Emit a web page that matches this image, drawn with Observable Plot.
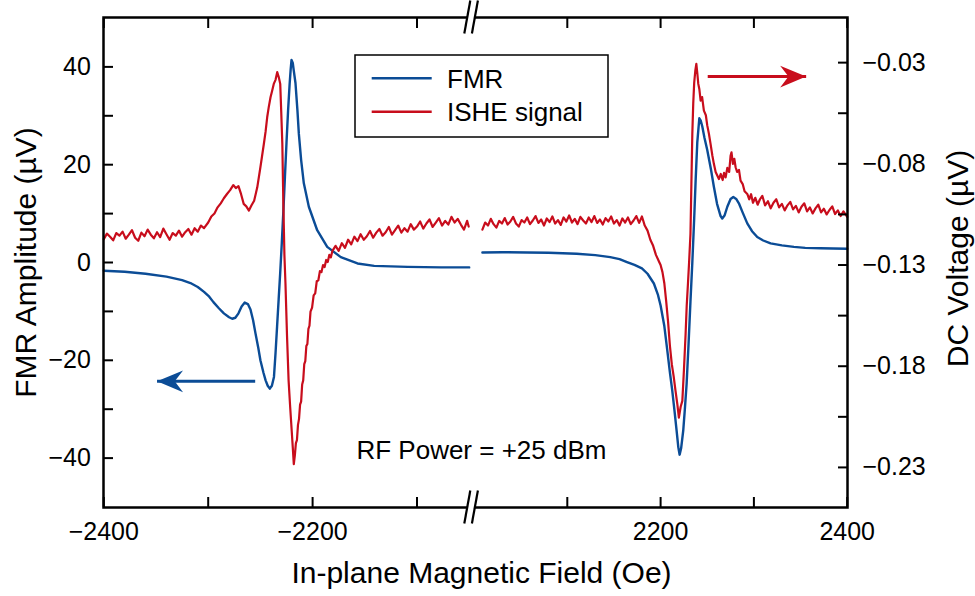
<!DOCTYPE html>
<html>
<head>
<meta charset="utf-8">
<script src="https://cdn.jsdelivr.net/npm/d3@7"></script>
<script src="https://cdn.jsdelivr.net/npm/@observablehq/plot@0.6"></script>
<style>
  html, body { margin: 0; padding: 0; background: #fff; }
  #chart svg { display: block; }
</style>
</head>
<body>
<div id="chart"></div>
<script>
// ---------------- data ----------------
// FMR amplitude (µV) vs in-plane field (Oe), negative-field branch
const fmrLeft = [
  [-2400,-1.7],[-2380,-1.9],[-2360,-2.3],[-2340,-2.9],[-2325,-3.6],[-2317,-4.2],[-2310,-5.0],
  [-2304,-6.0],[-2299,-7.0],[-2295,-8.1],[-2290,-9.3],[-2285,-10.4],[-2280,-11.2],[-2277,-11.5],
  [-2274,-11.3],[-2271,-10.4],[-2268,-9.0],[-2265,-8.2],[-2262,-8.5],[-2259.5,-9.6],[-2257,-11.8],
  [-2254.7,-14.5],[-2252,-17.5],[-2250,-20],[-2247,-22.6],[-2245,-24.1],[-2243,-25.2],[-2241,-25.8],
  [-2239,-25.2],[-2237,-23.4],[-2235.5,-18.5],[-2234,-13],[-2232.5,-7.5],[-2231,-2],[-2229.5,4],
  [-2228,10.5],[-2226.5,17.5],[-2225,24.5],[-2223.5,31],[-2222,36.5],[-2221,39.5],[-2220.2,41.4],
  [-2219,40.8],[-2218,39.2],[-2216.4,36.7],[-2214.5,31],[-2213.2,26.4],[-2211,21],[-2208.4,16.2],
  [-2203.6,11.4],[-2195.6,6.6],[-2186,3.2],[-2173,1.1],[-2157,-0.2],[-2141,-0.7],[-2109,-0.9],
  [-2077,-1.0],[-2050,-1.0]
];
// FMR amplitude (µV), positive-field branch
const fmrRight = [
  [2009,2.05],[2030,2.1],[2057,2.05],[2080,2.0],[2110,1.8],[2130,1.5],[2146,1.1],[2156,0.7],
  [2164,0.1],[2172,-0.5],[2180,-1.2],[2186,-2.3],[2192.8,-4.3],[2197,-6.5],[2200,-8.8],[2204,-13],
  [2207.2,-18],[2210,-22.5],[2212.5,-26.2],[2215,-30.5],[2217.1,-34.3],[2219,-37.8],[2220.4,-39.3],
  [2222,-38],[2224.3,-34.3],[2226,-30],[2227.9,-24.8],[2230,-16.5],[2232,-8],[2234,0],[2236,9],
  [2237.6,17],[2239.3,24.5],[2241.5,29.5],[2243,29],[2244.7,27.8],[2247,25.5],[2250,23],[2254,19],
  [2257.1,15.5],[2260.5,12],[2264.3,9.5],[2266.1,9.0],[2268.5,9.6],[2271.5,11.4],[2275,13],
  [2277.9,13.4],[2281,13.0],[2283.9,12.1],[2288,10.2],[2292.9,8.0],[2298,6.4],[2303.6,5.2],
  [2310,4.5],[2317.9,3.9],[2330,3.5],[2342.9,3.2],[2355,3.0],[2371.5,2.9],[2385,2.85],[2400,2.8]
];
// ISHE DC voltage (right axis units) vs field, negative-field branch
const isheLeft = [
  [-2400,-0.1172],[-2397,-0.1145],[-2394,-0.1160],[-2391,-0.1178],[-2388,-0.1142],[-2385,-0.1155],
  [-2382,-0.1135],[-2379,-0.1170],[-2376,-0.1150],[-2373,-0.1128],[-2370,-0.1165],[-2367,-0.1180],
  [-2364,-0.1140],[-2361,-0.1158],[-2358,-0.1125],[-2355,-0.1150],[-2352,-0.1168],[-2349,-0.1138],
  [-2346,-0.1162],[-2343,-0.1120],[-2340,-0.1148],[-2337,-0.1175],[-2334,-0.1142],[-2331,-0.1155],
  [-2328,-0.1130],[-2325,-0.1160],[-2322,-0.1138],[-2319,-0.1122],[-2316,-0.1150],[-2313,-0.1118],
  [-2310,-0.1135],[-2307,-0.1105],[-2304,-0.1118],[-2300,-0.1090],[-2297,-0.1060],[-2294,-0.1045],
  [-2291,-0.1015],[-2288,-0.0995],[-2285,-0.0970],[-2282,-0.0949],[-2279,-0.0930],[-2276,-0.0905],
  [-2273.5,-0.0920],[-2271,-0.0910],[-2268.5,-0.0950],[-2266,-0.0998],[-2263.5,-0.1010],[-2261,-0.1031],
  [-2258.5,-0.1005],[-2256,-0.0982],[-2253,-0.0916],[-2250,-0.0817],[-2248.5,-0.0765],[-2246.7,-0.0702],
  [-2245,-0.0640],[-2243.5,-0.0570],[-2242,-0.0520],[-2240.3,-0.0471],[-2238.8,-0.0440],[-2237.2,-0.0405],
  [-2235.5,-0.0385],[-2233.9,-0.0347],[-2232.5,-0.0370],[-2231,-0.0405],[-2230,-0.0550],[-2229,-0.0700],
  [-2228,-0.1000],[-2227,-0.1250],[-2226,-0.1390],[-2224.5,-0.1650],[-2223,-0.1870],[-2221.5,-0.2000],
  [-2220,-0.2120],[-2219,-0.2200],[-2218,-0.2284],[-2217,-0.2240],[-2216,-0.2180],[-2215,-0.2165],
  [-2214,-0.2090],[-2213,-0.2060],[-2212,-0.1990],[-2211,-0.1975],[-2210,-0.1890],[-2209,-0.1870],
  [-2208,-0.1790],[-2207,-0.1775],[-2206,-0.1700],[-2205,-0.1690],[-2204,-0.1615],[-2203,-0.1600],
  [-2202,-0.1530],[-2200.5,-0.1510],[-2199,-0.1450],[-2197.5,-0.1440],[-2196,-0.1380],[-2194.5,-0.1375],
  [-2193,-0.1330],[-2191.5,-0.1335],[-2190,-0.1300],[-2188.5,-0.1310],[-2187,-0.1275],[-2185.5,-0.1285],
  [-2184,-0.1250],[-2182.5,-0.1262],[-2181,-0.1230],[-2178,-0.1205],[-2175,-0.1230],[-2172,-0.1192],
  [-2169,-0.1215],[-2166,-0.1175],[-2163,-0.1198],[-2160,-0.1160],[-2157,-0.1182],[-2154,-0.1148],
  [-2151,-0.1175],[-2148,-0.1158],[-2145,-0.1132],[-2142,-0.1165],[-2139,-0.1140],[-2136,-0.1122],
  [-2133,-0.1155],[-2130,-0.1138],[-2127,-0.1112],[-2124,-0.1150],[-2121,-0.1128],[-2118,-0.1105],
  [-2115,-0.1140],[-2112,-0.1118],[-2109,-0.1135],[-2106,-0.1098],[-2103,-0.1125],[-2100,-0.1110],
  [-2097,-0.1085],[-2094,-0.1120],[-2091,-0.1095],[-2088,-0.1075],[-2085,-0.1112],[-2082,-0.1090],
  [-2079,-0.1068],[-2076,-0.1105],[-2073,-0.1082],[-2070,-0.1100],[-2067,-0.1062],[-2064,-0.1090],
  [-2061,-0.1072],[-2058,-0.1100],[-2055,-0.1125],[-2052,-0.1082],[-2050.5,-0.1110]
];
// ISHE DC voltage, positive-field branch
const isheRight = [
  [2009,-0.1125],[2012,-0.1090],[2015,-0.1105],[2018,-0.1072],[2021,-0.1098],[2024,-0.1115],
  [2027,-0.1082],[2030,-0.1095],[2033,-0.1068],[2036,-0.1100],[2039,-0.1085],[2042,-0.1062],
  [2045,-0.1095],[2048,-0.1110],[2051,-0.1078],[2054,-0.1090],[2057,-0.1065],[2060,-0.1098],
  [2063,-0.1080],[2066,-0.1058],[2069,-0.1092],[2072,-0.1075],[2075,-0.1105],[2078,-0.1070],
  [2081,-0.1088],[2084,-0.1060],[2087,-0.1095],[2090,-0.1078],[2093,-0.1102],[2096,-0.1065],
  [2099,-0.1085],[2102,-0.1055],[2105,-0.1090],[2108,-0.1072],[2111,-0.1098],[2114,-0.1062],
  [2117,-0.1080],[2120,-0.1095],[2123,-0.1065],[2126,-0.1088],[2129,-0.1058],[2132,-0.1092],
  [2135,-0.1075],[2138,-0.1100],[2141,-0.1068],[2144,-0.1085],[2147,-0.1060],[2150,-0.1095],
  [2153,-0.1078],[2156,-0.1105],[2159,-0.1070],[2162,-0.1090],[2165,-0.1065],[2168,-0.1098],
  [2171,-0.1080],[2174,-0.1058],[2177,-0.1092],[2180,-0.1060],[2183,-0.1105],[2186,-0.1130],
  [2189,-0.1175],[2192,-0.1205],[2195,-0.1250],[2198,-0.1280],[2200,-0.1300],[2202,-0.1335],
  [2204,-0.1390],[2206,-0.1480],[2208,-0.1580],[2210,-0.1700],[2212,-0.1790],[2214,-0.1850],
  [2216,-0.1922],[2218,-0.1990],[2219.6,-0.2054],[2221.5,-0.2000],[2223.3,-0.1971],[2225,-0.1820],
  [2226.8,-0.1641],[2228,-0.1500],[2229.3,-0.1394],[2230.5,-0.1290],[2232,-0.1147],[2233,-0.0900],
  [2234,-0.0652],[2235,-0.0500],[2236,-0.0400],[2237.2,-0.0340],[2238.3,-0.0306],[2239.3,-0.0350],
  [2240.4,-0.0405],[2241.5,-0.0430],[2242.9,-0.0488],[2244.5,-0.0470],[2246.4,-0.0537],[2248.5,-0.0560],
  [2250,-0.0610],[2251.8,-0.0652],[2253.5,-0.0700],[2255.5,-0.0760],[2257.1,-0.0800],[2259,-0.0840],
  [2261,-0.0860],[2262.5,-0.0875],[2264.5,-0.0850],[2266.5,-0.0880],[2268,-0.0845],[2269.7,-0.0867],
  [2271.5,-0.0820],[2273.5,-0.0840],[2275,-0.0760],[2276,-0.0743],[2277.5,-0.0800],[2279,-0.0775],
  [2280.4,-0.0817],[2282,-0.0840],[2284,-0.0830],[2285.7,-0.0883],[2288,-0.0900],[2290,-0.0935],
  [2292.9,-0.0949],[2295,-0.0975],[2297,-0.0950],[2299,-0.0992],[2301.5,-0.0968],[2304,-0.1002],
  [2306.5,-0.0975],[2309,-0.0958],[2312,-0.1005],[2315,-0.0985],[2318,-0.1020],[2321,-0.0992],
  [2324,-0.0975],[2327,-0.1015],[2330,-0.0998],[2333,-0.1030],[2336,-0.1005],[2339,-0.0988],
  [2342,-0.1025],[2345,-0.1008],[2348,-0.1040],[2351,-0.1012],[2354,-0.0995],[2357,-0.1035],
  [2360,-0.1015],[2363,-0.1045],[2366,-0.1020],[2369,-0.1002],[2372,-0.1040],[2375,-0.1022],
  [2378,-0.1050],[2381,-0.1028],[2384,-0.1010],[2387,-0.1048],[2390,-0.1030],[2393,-0.1058],
  [2396,-0.1035],[2400,-0.1062]
];

// axes, ticks, labels
const xDomain = [-2400, -2050, 2000, 2400];          // broken axis: two field windows
const xTickValues = [-2400, -2300, -2200, -2100, 2100, 2200, 2300, 2400];
const xTickLabels = ["−2400", "", "−2200", "", "", "2200", "", "2400"];
const leftDomain = [-50.1, 50.1];
const leftTickValues = [40, 30, 20, 10, 0, -10, -20, -30, -40];
const leftTickLabels = ["40", "", "20", "", "0", "", "−20", "", "−40"];
const rightDomain = [-0.2498, -0.0077];
const rightTickValues = [-0.03, -0.055, -0.08, -0.105, -0.13, -0.155, -0.18, -0.205, -0.23];
const rightTickLabels = ["−0.03", "", "−0.08", "", "−0.13", "", "−0.18", "", "−0.23"];
const xTitle = "In-plane Magnetic Field (Oe)";
const leftTitle = "FMR Amplitude (µV)";
const rightTitle = "DC Voltage (µV)";
const seriesNames = ["FMR", "ISHE signal"];
const seriesColors = ["#0b4c96", "#c80d1c"];
const noteText = ["RF Power = +25 dBm"];
const noteField = [-2158];
const noteAmp = [-40.1];
// axis-pointer arrows: [from field, to field, level, series index]
const pointerArrows = [[-2255, -2349, -24.3, 0], [2250.5, 2356, -0.0369, 1]];

// ---------------- helpers ----------------
const toLeft = v => leftDomain[0] + (v - rightDomain[0]) / (rightDomain[1] - rightDomain[0]) * (leftDomain[1] - leftDomain[0]);
const rows = (pts, seg, conv) => pts.map(([f, v]) => ({field: f, val: conv ? toLeft(v) : v, seg}));
const fmrRows = [...rows(fmrLeft, "L", false), ...rows(fmrRight, "R", false)];
const isheRows = [...rows(isheLeft, "L", true), ...rows(isheRight, "R", true)];
const rightTickPos = rightTickValues.map(toLeft);
const fmtX = d => xTickLabels[xTickValues.indexOf(d)] ?? "";
const fmtL = d => leftTickLabels[leftTickValues.indexOf(d)] ?? "";
const fmtR = d => rightTickLabels[rightTickPos.indexOf(d)] ?? "";
const arrowRows = pointerArrows.map(([a, b, lvl, s]) => ({
  x1: a, x2: b, y: s === 1 ? toLeft(lvl) : lvl, color: seriesColors[s], angle: b < a ? 180 : 0
}));

// barbed (stealth-style) arrowhead symbol, pointing toward +x, tip at the origin
const barbHead = {
  draw(context, size) {
    const L = Math.sqrt(size / Math.PI) * 2;
    context.moveTo(0, 0);
    context.lineTo(-L, -L * 0.42);
    context.lineTo(-L * 0.68, 0);
    context.lineTo(-L, L * 0.42);
    context.closePath();
  }
};

function breakMarks(index, scales, values, dims) {
  const xm = (scales.x(xDomain[1]) + scales.x(xDomain[2])) / 2;
  const g = d3.create("svg:g");
  for (const yy of [dims.marginTop, dims.height - dims.marginBottom]) {
    g.append("rect").attr("x", xm - 3.8).attr("y", yy - 3).attr("width", 7.6).attr("height", 6).attr("fill", "white");
    for (const off of [-3.8, 3.8]) {
      g.append("line")
        .attr("x1", xm + off - 3).attr("y1", yy + 16.5)
        .attr("x2", xm + off + 3).attr("y2", yy - 16.5)
        .attr("stroke", "black").attr("stroke-width", 2.2);
    }
  }
  return g.node();
}

function legendBox(index, scales, values, dims) {
  const x0 = dims.marginLeft + 252, y0 = dims.marginTop + 38, w = 253, h = 82;
  const g = d3.create("svg:g").attr("text-anchor", "start");
  g.append("rect").attr("x", x0).attr("y", y0).attr("width", w).attr("height", h)
    .attr("fill", "white").attr("stroke", "black").attr("stroke-width", 1.5);
  seriesNames.forEach((name, i) => {
    const yy = y0 + 23.3 + i * 33.4;
    g.append("line").attr("x1", x0 + 16.7).attr("x2", x0 + 76.7).attr("y1", yy).attr("y2", yy)
      .attr("stroke", seriesColors[i]).attr("stroke-width", 2.5);
    g.append("text").attr("x", x0 + 92).attr("y", yy).attr("dy", "0.36em")
      .attr("text-anchor", "start").attr("font-size", 26).attr("fill", "black").text(name);
  });
  return g.node();
}

const chart = Plot.plot({
  width: 975,
  height: 596,
  marginLeft: 103,
  marginRight: 128,
  marginTop: 17,
  marginBottom: 89,
  style: {fontFamily: "'Liberation Sans', Arial, sans-serif", color: "black", background: "white", overflow: "visible"},
  x: {type: "linear", domain: xDomain, range: [103.3, 468.7, 473.5, 846.7]},
  y: {domain: leftDomain},
  marks: [
    Plot.line(fmrRows, {x: "field", y: "val", z: "seg", stroke: seriesColors[0], strokeWidth: 2.4}),
    Plot.line(isheRows, {x: "field", y: "val", z: "seg", stroke: seriesColors[1], strokeWidth: 2.2}),
    Plot.frame({stroke: "black", strokeWidth: 2.5}),
    Plot.axisX(xTickValues, {anchor: "bottom", tickSize: -10, tickPadding: 25, tickFormat: fmtX, fontSize: 25, strokeWidth: 2, label: null}),
    Plot.axisX(xTickValues, {anchor: "top", tickSize: -10, tickFormat: () => "", strokeWidth: 2, label: null}),
    Plot.axisY(leftTickValues, {anchor: "left", tickSize: -10, tickPadding: 22.6, tickFormat: fmtL, fontSize: 25, strokeWidth: 2, label: null}),
    Plot.axisY(rightTickPos, {anchor: "right", tickSize: -10, tickPadding: 25, tickFormat: fmtR, fontSize: 25, strokeWidth: 2, label: null}),
    breakMarks,
    legendBox,
    Plot.link(arrowRows, {x1: "x1", x2: "x2", y1: "y", y2: "y", stroke: "color", strokeWidth: 3}),
    Plot.dot(arrowRows, {x: "x2", y: "y", symbol: barbHead, r: 13, fill: "color", stroke: "none", rotate: "angle"}),
    Plot.text(noteText, {x: noteField, y: noteAmp, text: d => d, textAnchor: "start", lineAnchor: "bottom", fontSize: 26}),
    Plot.text([xTitle], {frameAnchor: "bottom", dx: 6, dy: 75, textAnchor: "middle", lineAnchor: "bottom", fontSize: 30}),
    Plot.text([leftTitle], {frameAnchor: "left", dx: -68, rotate: -90, textAnchor: "middle", lineAnchor: "bottom", fontSize: 30}),
    Plot.text([rightTitle], {frameAnchor: "right", dx: 120, dy: -4, rotate: -90, textAnchor: "middle", lineAnchor: "bottom", fontSize: 30})
  ]
});
document.getElementById("chart").append(chart);
</script>
</body>
</html>
